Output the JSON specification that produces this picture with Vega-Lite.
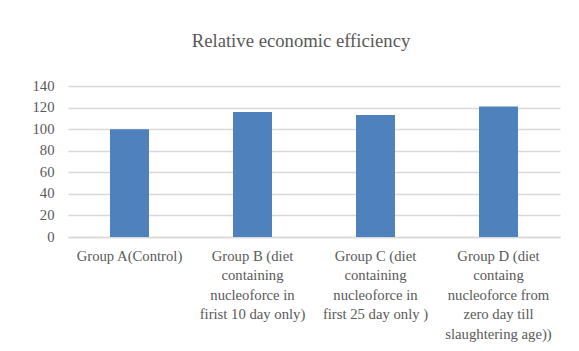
{
  "$schema": "https://vega.github.io/schema/vega-lite/v6.json",
  "width": 492,
  "height": 151,
  "autosize": {"type": "none"},
  "padding": {"left": 68, "top": 86, "right": 19, "bottom": 114},
  "background": "white",
  "title": {
    "text": "Relative economic efficiency",
    "font": "Liberation Serif",
    "fontSize": 18.7,
    "fontWeight": "normal",
    "color": "#595959",
    "anchor": "middle",
    "baseline": "alphabetic",
    "offset": 12,
    "dx": -13
  },
  "config": {
    "view": {"stroke": null},
    "axis": {
      "labelFont": "Liberation Serif",
      "labelFontSize": 14.7,
      "labelColor": "#595959",
      "gridColor": "#D9D9D9",
      "gridWidth": 1.3,
      "domainColor": "#D9D9D9",
      "ticks": false,
      "title": null
    }
  },
  "data": {
    "values": [
      {"group": "Group A(Control)", "efficiency": 100},
      {"group": "Group B (diet\ncontaining\nnucleoforce in\nfirist 10 day only)", "efficiency": 115.8},
      {"group": "Group C (diet\ncontaining\nnucleoforce in\nfirst 25 day only )", "efficiency": 113},
      {"group": "Group D (diet\ncontaing\nnucleoforce from\nzero day till\nslaughtering age))", "efficiency": 121}
    ]
  },
  "mark": {"type": "bar", "color": "#4F81BD"},
  "encoding": {
    "x": {
      "field": "group",
      "type": "nominal",
      "sort": null,
      "scale": {"paddingInner": 0.683, "paddingOuter": 0.3415},
      "axis": {
        "labelFont": "Liberation Serif",
        "labelFontSize": 14.7,
        "labelAngle": 0,
        "labelAlign": "center",
        "labelBaseline": "top",
        "labelPadding": 11,
        "labelLineHeight": 19.5,
        "labelLimit": 200,
        "labelExpr": "split(datum.value, '\\n')",
        "domainWidth": 1.3
      }
    },
    "y": {
      "field": "efficiency",
      "type": "quantitative",
      "scale": {"domain": [0, 140], "nice": false},
      "axis": {
        "labelFont": "Liberation Serif",
        "labelFontSize": 14.7,
        "values": [0, 20, 40, 60, 80, 100, 120, 140],
        "domain": false,
        "labelPadding": 14,
        "labelBaseline": "middle"
      }
    }
  }
}
